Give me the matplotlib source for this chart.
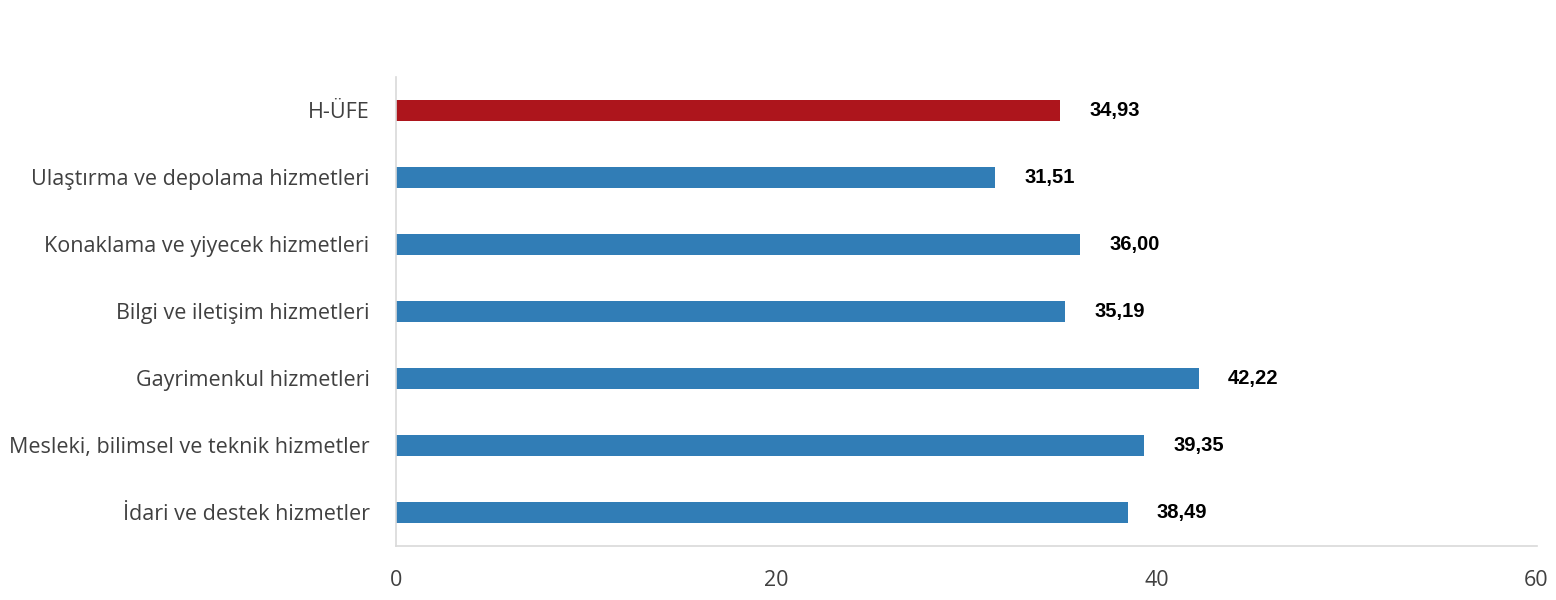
import matplotlib.pyplot as plt

CATEGORIES = [
    "H-ÜFE",
    "Ulaştırma ve depolama hizmetleri",
    "Konaklama ve yiyecek hizmetleri",
    "Bilgi ve iletişim hizmetleri",
    "Gayrimenkul hizmetleri",
    "Mesleki, bilimsel ve teknik hizmetler",
    "İdari ve destek hizmetler",
]
VALUES = [34.93, 31.51, 36.00, 35.19, 42.22, 39.35, 38.49]
X_TICKS = [0, 20, 40, 60]

RED = "#ad151c"
BLUE = "#317db6"
GRID = "#d9d9d9"
TEXT = "#404040"


def main() -> None:
    fig = plt.figure(figsize=(15.56, 6.0), dpi=100)
    ax = fig.add_axes([0.2545, 0.09, 0.733, 0.7817])

    y = list(range(len(CATEGORIES)))
    colors = [RED] + [BLUE] * (len(CATEGORIES) - 1)
    ax.barh(y, VALUES, height=0.31, color=colors)

    for yi, v in zip(y, VALUES):
        label = f"{v:.2f}".replace(".", ",")
        ax.annotate(label, (v, yi), xytext=(21, 0), textcoords="offset points",
                    ha="left", va="center", fontsize=14.5, fontweight="bold",
                    family="Liberation Sans", color="black")

    ax.set_ylim(len(CATEGORIES) - 0.5, -0.5)
    ax.set_xlim(0, 60)
    ax.set_xticks(X_TICKS)
    ax.set_xticklabels([str(t) for t in X_TICKS], fontsize=15.5,
                       family="Open Sans", color=TEXT)
    ax.set_yticks(y)
    ax.set_yticklabels(CATEGORIES, fontsize=15.5, family="Open Sans", color=TEXT)
    ax.tick_params(axis="both", length=0)
    ax.tick_params(axis="y", pad=19)
    ax.tick_params(axis="x", pad=17)

    for side in ["top", "right"]:
        ax.spines[side].set_visible(False)
    for side in ["left", "bottom"]:
        ax.spines[side].set_color(GRID)
        ax.spines[side].set_linewidth(1.2)

    fig.savefig("out.png", dpi=100)


if __name__ == "__main__":
    main()
